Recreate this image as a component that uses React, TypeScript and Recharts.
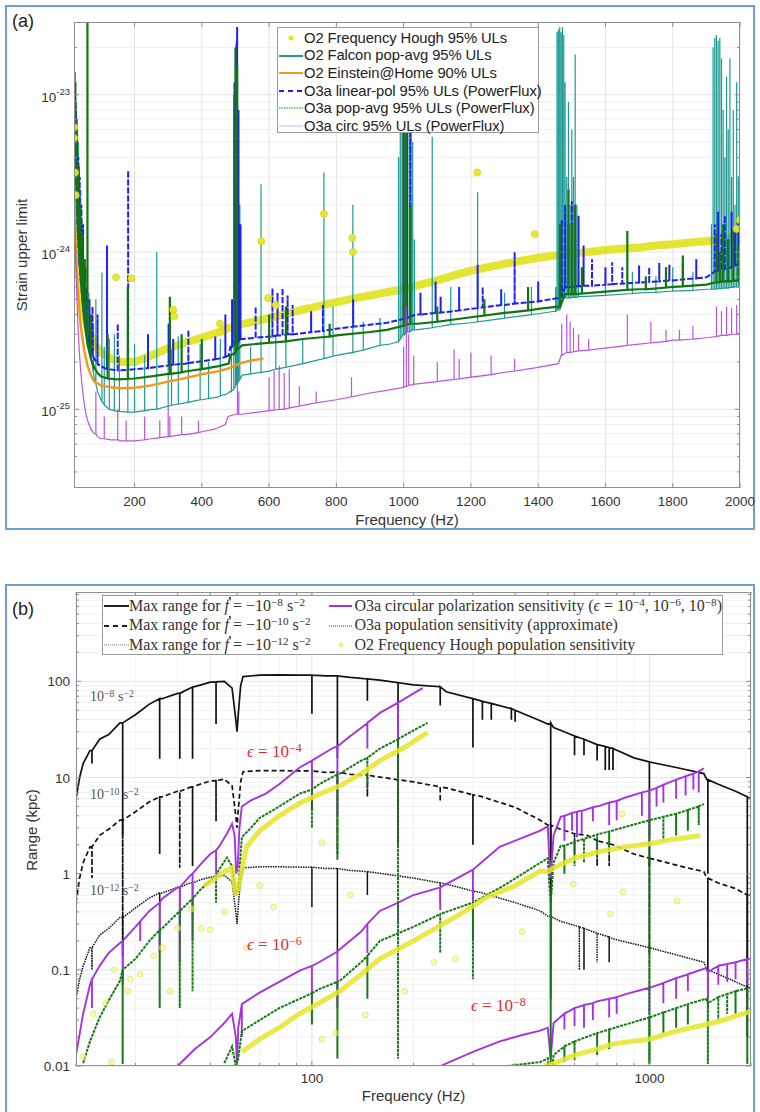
import React from "react";
import { ComposedChart, Line, Scatter, XAxis, YAxis, ReferenceLine } from "recharts";

type P = [number, number];
type S = [number, number, number]; // [frequency, curve value, spike tip]

// ---------- panel (a): strain upper limits ----------
const aXTicks = [200, 400, 600, 800, 1000, 1200, 1400, 1600, 1800, 2000];
const aYMajor = [1e-25, 1e-24, 1e-23];
const aYTicks = [4e-26, 5e-26, 6e-26, 7e-26, 8e-26, 9e-26, 1e-25, 2e-25, 3e-25, 4e-25, 5e-25, 6e-25, 7e-25, 8e-25, 9e-25, 1e-24, 2e-24, 3e-24, 4e-24, 5e-24, 6e-24, 7e-24, 8e-24, 9e-24, 1e-23, 2e-23];

const houghBandA: P[] = [
  [20, 6.2e-24], [22, 4.5e-24], [25, 2.5e-24], [30, 1.2e-24], [40, 6e-25], [50, 4.2e-25], [60, 3.3e-25], [80, 2.6e-25],
  [100, 2.3e-25], [130, 2.1e-25], [160, 2.0e-25], [200, 2.0e-25], [250, 2.2e-25], [300, 2.45e-25], [350, 2.65e-25],
  [400, 2.85e-25], [450, 3.1e-25], [500, 3.4e-25], [550, 3.6e-25], [600, 3.8e-25], [650, 4.05e-25], [700, 4.3e-25],
  [750, 4.55e-25], [800, 4.8e-25], [850, 5.05e-25], [900, 5.3e-25], [950, 5.55e-25], [1000, 5.8e-25], [1050, 6.2e-25],
  [1100, 6.6e-25], [1150, 7.1e-25], [1200, 7.6e-25], [1250, 8.0e-25], [1300, 8.4e-25], [1350, 8.8e-25], [1400, 9.2e-25],
  [1450, 9.5e-25], [1500, 9.8e-25], [1550, 1.0e-24], [1600, 1.03e-24], [1650, 1.05e-24], [1700, 1.07e-24],
  [1750, 1.1e-24], [1800, 1.12e-24], [1850, 1.15e-24], [1900, 1.17e-24], [1950, 1.21e-24], [2000, 1.25e-24],
];
const houghDotsA: P[] = [
  [20, 5.3e-24], [21, 6.2e-24], [23, 3.2e-24], [25, 2.3e-24], [145, 6.9e-25], [191, 6.8e-25], [315, 4.3e-25],
  [318, 3.9e-25], [454, 3.5e-25], [456, 3.1e-25], [577, 1.17e-24], [597, 5.1e-25], [620, 4.6e-25], [763, 1.75e-24],
  [847, 1.23e-24], [849, 1.0e-24], [1219, 3.2e-24], [1390, 1.3e-24], [1990, 1.4e-24], [2000, 1.6e-24],
];

const falconBase: P[] = [
  [20, 1.5e-23], [22, 8e-24], [25, 4e-24], [30, 2e-24], [35, 1.2e-24], [40, 8e-25], [50, 4.5e-25], [60, 3e-25],
  [70, 2.1e-25], [80, 1.6e-25], [90, 1.3e-25], [100, 1.15e-25], [120, 1.02e-25], [150, 9.7e-26], [200, 9.6e-26],
  [250, 1.0e-25], [300, 1.05e-25], [350, 1.1e-25], [400, 1.15e-25], [450, 1.2e-25], [475, 1.25e-25], [485, 1.3e-25],
  [520, 1.65e-25], [600, 1.75e-25], [700, 1.95e-25], [800, 2.2e-25], [900, 2.45e-25], [960, 2.6e-25], [1035, 3.2e-25],
  [1100, 3.35e-25], [1200, 3.55e-25], [1300, 3.8e-25], [1400, 4.05e-25], [1450, 4.2e-25], [1525, 5.2e-25],
  [1600, 5.3e-25], [1700, 5.5e-25], [1800, 5.65e-25], [1900, 5.8e-25], [2000, 6.0e-25],
];
const falconSpikes: S[] = [
  [24, 5e-24, 1.4e-23], [27, 3e-24, 9e-24], [30, 2e-24, 7e-24], [33, 1.5e-24, 5e-24], [36, 1.1e-24, 3.5e-24],
  [40, 8e-25, 2.5e-24], [44, 6e-25, 1.6e-24], [48, 5e-25, 1.2e-24], [52, 4e-25, 9e-25], [56, 3.4e-25, 8e-25],
  [64, 2.6e-25, 5.5e-25], [72, 2e-25, 4e-25], [78, 1.7e-25, 3.5e-25], [85, 1.45e-25, 5e-25], [103, 1.12e-25, 7.4e-25],
  [110, 1.07e-25, 2.5e-25], [125, 1.0e-25, 2.8e-25], [140, 9.8e-26, 3e-25], [155, 9.7e-26, 2.2e-25],
  [180, 9.6e-26, 1.8e-25], [200, 9.6e-26, 2.6e-25], [230, 9.8e-26, 2.2e-25], [266, 1.0e-25, 1.0e-24],
  [300, 1.05e-25, 3.5e-25], [310, 1.06e-25, 2.4e-25], [330, 1.08e-25, 2.9e-25], [360, 1.11e-25, 2.3e-25],
  [395, 1.15e-25, 2.6e-25], [420, 1.17e-25, 2.0e-25], [455, 1.22e-25, 2.8e-25],
  [488, 1.3e-25, 2.5e-25], [495, 1.35e-25, 1e-23], [500, 1.4e-25, 1.6e-23], [503, 1.45e-25, 2.2e-23],
  [506, 1.5e-25, 1.3e-23], [509, 1.5e-25, 6e-24], [513, 1.55e-25, 2e-24],
  [545, 1.68e-25, 2.5e-25], [576, 1.72e-25, 2.7e-24], [620, 1.8e-25, 3e-25], [650, 1.85e-25, 3.2e-25],
  [700, 1.95e-25, 2.8e-25], [763, 2.1e-25, 3.2e-24], [790, 2.18e-25, 4.5e-25], [849, 2.3e-25, 2.0e-24],
  [880, 2.38e-25, 3.6e-25], [930, 2.55e-25, 3.8e-25],
  [985, 2.7e-25, 4e-24], [990, 2.8e-25, 1.6e-23], [995, 2.9e-25, 2.5e-23], [1000, 3e-25, 2.6e-23],
  [1004, 3e-25, 2.2e-23], [1008, 3.1e-25, 1.2e-23], [1012, 3.1e-25, 2.5e-23], [1017, 3.1e-25, 1.9e-23],
  [1022, 3.15e-25, 8e-24], [1027, 3.2e-25, 5e-24], [1032, 3.2e-25, 1.2e-24],
  [1085, 3.3e-25, 5.4e-24], [1140, 3.45e-25, 6e-25], [1220, 3.6e-25, 2.4e-24], [1300, 3.8e-25, 5.5e-25],
  [1380, 4.0e-25, 6e-25],
  [1452, 4.2e-25, 6e-25], [1456, 4.25e-25, 2.5e-23], [1460, 4.3e-25, 2.6e-23], [1464, 4.3e-25, 2.7e-23],
  [1468, 4.5e-25, 2.5e-23], [1472, 5e-25, 2.7e-23], [1476, 5.1e-25, 2.4e-23], [1480, 5.1e-25, 1.2e-23],
  [1485, 5.1e-25, 3e-24], [1490, 5.1e-25, 9e-24], [1495, 5.1e-25, 2e-24], [1500, 5.15e-25, 6e-24],
  [1505, 5.15e-25, 3e-24], [1510, 5.15e-25, 1.8e-23], [1515, 5.15e-25, 2e-24], [1520, 5.2e-25, 8e-25],
  [1600, 5.3e-25, 7e-25], [1680, 5.45e-25, 7.5e-25], [1750, 5.55e-25, 7e-25], [1800, 5.65e-25, 8e-25],
  [1860, 5.7e-25, 7.5e-25],
  [1915, 5.8e-25, 1.5e-24], [1920, 5.8e-25, 2.0e-23], [1925, 5.8e-25, 2.3e-23], [1930, 5.8e-25, 2.4e-23],
  [1935, 5.85e-25, 2.2e-23], [1940, 5.85e-25, 2.3e-23], [1945, 5.85e-25, 1.7e-23], [1950, 5.9e-25, 8e-24],
  [1955, 5.9e-25, 4e-24], [1960, 5.9e-25, 1.3e-23], [1965, 5.9e-25, 6e-24], [1970, 5.95e-25, 1.7e-23],
  [1975, 5.95e-25, 3e-24], [1980, 5.95e-25, 8e-24], [1985, 6e-25, 2e-24], [1990, 6e-25, 1.2e-23], [1995, 6e-25, 3e-24],
];

const einsteinBase: P[] = [
  [20, 2.5e-24], [22, 1.7e-24], [25, 1.1e-24], [30, 6.5e-25], [35, 4.5e-25], [40, 3.4e-25], [50, 2.4e-25],
  [60, 1.9e-25], [70, 1.65e-25], [80, 1.5e-25], [100, 1.42e-25], [130, 1.38e-25], [160, 1.36e-25], [200, 1.37e-25],
  [250, 1.42e-25], [300, 1.5e-25], [350, 1.58e-25], [400, 1.67e-25], [450, 1.75e-25], [480, 1.82e-25],
  [500, 1.9e-25], [520, 1.98e-25], [550, 2.05e-25], [583, 2.1e-25],
];

const linearBase: P[] = [
  [20, 1.1e-23], [21, 8e-24], [22, 6e-24], [24, 4e-24], [26, 2.8e-24], [28, 2e-24], [30, 1.5e-24], [33, 1.1e-24],
  [36, 8.5e-25], [40, 6.5e-25], [45, 5e-25], [50, 4e-25], [55, 3.4e-25], [60, 2.9e-25], [70, 2.4e-25], [80, 2.1e-25],
  [90, 1.95e-25], [100, 1.88e-25], [120, 1.8e-25], [150, 1.77e-25], [200, 1.8e-25], [250, 1.84e-25], [300, 1.9e-25],
  [350, 1.95e-25], [400, 2.02e-25], [450, 2.1e-25], [480, 2.2e-25], [485, 2.5e-25], [520, 2.8e-25], [600, 2.9e-25],
  [700, 3.05e-25], [800, 3.25e-25], [900, 3.45e-25], [950, 3.55e-25], [1040, 4.0e-25], [1100, 4.1e-25],
  [1200, 4.35e-25], [1300, 4.6e-25], [1400, 4.85e-25], [1460, 5.1e-25], [1480, 6.0e-25], [1550, 6.1e-25],
  [1600, 6.2e-25], [1700, 6.4e-25], [1800, 6.6e-25], [1900, 6.9e-25], [1925, 7.5e-25], [1960, 8e-25], [2000, 8.5e-25],
];
const linearSpikes: S[] = [
  [23, 5e-24, 1.05e-23], [26, 2.8e-24, 8e-24], [29, 1.8e-24, 5.5e-24], [33, 1.1e-24, 4e-24], [37, 8e-25, 3e-24],
  [42, 6e-25, 2e-24], [47, 4.5e-25, 1.5e-24], [52, 3.8e-25, 8e-25], [58, 3e-25, 6e-25], [66, 2.6e-25, 5e-25],
  [75, 2.2e-25, 4.5e-25], [90, 1.95e-25, 4e-25], [118, 1.8e-25, 1.1e-24], [150, 1.77e-25, 3.5e-25],
  [181, 1.78e-25, 3.3e-24], [240, 1.83e-25, 3e-25], [302, 1.9e-25, 3.5e-25], [315, 1.92e-25, 2.8e-25],
  [360, 1.97e-25, 3.2e-25], [440, 2.08e-25, 2.9e-25], [470, 2.15e-25, 4e-25], [490, 2.5e-25, 5e-25],
  [497, 2.6e-25, 1.2e-23], [503, 2.7e-25, 2.1e-23], [505, 2.7e-25, 2.7e-23], [509, 2.7e-25, 8e-24],
  [515, 2.8e-25, 1.5e-24], [560, 2.85e-25, 4.5e-25], [610, 2.9e-25, 5.9e-25], [625, 2.95e-25, 5.5e-25],
  [640, 2.95e-25, 5.9e-25], [655, 3e-25, 5.3e-25], [670, 3e-25, 4.6e-25], [725, 3.1e-25, 4.2e-25],
  [760, 3.15e-25, 4.6e-25], [850, 3.35e-25, 5e-25], [1000, 3.75e-25, 1e-23], [1010, 3.8e-25, 1.8e-23],
  [1020, 3.9e-25, 6e-24], [1050, 4.0e-25, 5.5e-25], [1095, 4.1e-25, 6.5e-25], [1110, 4.12e-25, 5.2e-25],
  [1165, 4.25e-25, 6e-25], [1220, 4.4e-25, 8.3e-25], [1235, 4.45e-25, 6e-25], [1290, 4.6e-25, 5.8e-25],
  [1330, 4.7e-25, 1e-24], [1400, 4.85e-25, 6.5e-25], [1470, 5.2e-25, 1.6e-24], [1480, 6e-25, 2e-24],
  [1490, 6e-25, 1.5e-24], [1500, 6e-25, 2.1e-24], [1510, 6.05e-25, 1.2e-24], [1520, 6.05e-25, 1.7e-24],
  [1535, 6.1e-25, 1.1e-24], [1560, 6.1e-25, 9e-25], [1600, 6.2e-25, 8e-25], [1620, 6.25e-25, 8.6e-25],
  [1650, 6.3e-25, 8e-25], [1700, 6.4e-25, 8.2e-25], [1730, 6.45e-25, 8e-25], [1760, 6.5e-25, 8.5e-25],
  [1790, 6.6e-25, 8.3e-25], [1830, 6.7e-25, 8.5e-25], [1870, 6.8e-25, 9e-25], [1925, 7.5e-25, 1.5e-24],
  [1935, 7.6e-25, 1.8e-24], [1945, 7.7e-25, 1.3e-24], [1955, 7.8e-25, 1.7e-24], [1965, 7.9e-25, 1.2e-24],
  [1975, 8e-25, 1.8e-24], [1985, 8.2e-25, 1.4e-24], [1995, 8.4e-25, 1.6e-24],
];

const popAvgBase: P[] = [
  [20, 1.2e-23], [22, 7e-24], [24, 4.5e-24], [26, 3.2e-24], [28, 2.4e-24], [30, 1.8e-24], [33, 1.3e-24],
  [36, 9.5e-25], [40, 7e-25], [45, 5e-25], [50, 3.8e-25], [55, 3.1e-25], [60, 2.6e-25], [70, 2.1e-25],
  [80, 1.85e-25], [90, 1.7e-25], [100, 1.62e-25], [120, 1.57e-25], [150, 1.55e-25], [200, 1.57e-25],
  [250, 1.62e-25], [300, 1.68e-25], [350, 1.74e-25], [400, 1.8e-25], [450, 1.88e-25], [480, 1.95e-25],
  [485, 2.2e-25], [520, 2.55e-25], [600, 2.65e-25], [700, 2.8e-25], [800, 2.95e-25], [900, 3.1e-25],
  [950, 3.2e-25], [1040, 3.5e-25], [1100, 3.6e-25], [1200, 3.85e-25], [1300, 4.1e-25], [1400, 4.35e-25],
  [1460, 4.5e-25], [1480, 5.4e-25], [1600, 5.6e-25], [1700, 5.8e-25], [1800, 6.0e-25], [1900, 6.2e-25],
  [1925, 6.4e-25], [2000, 6.6e-25],
];
const popAvgSpikes: S[] = [
  [24, 4.5e-24, 1.2e-23], [28, 2.4e-24, 6e-24], [33, 1.3e-24, 3.5e-24], [38, 8e-25, 2e-24], [45, 5e-25, 1.3e-24],
  [52, 3.5e-25, 9e-25], [60, 2.6e-25, 2.9e-23], [70, 2.1e-25, 4e-25], [120, 1.57e-25, 3e-25],
  [180, 1.56e-25, 6e-25], [305, 1.68e-25, 5.2e-25], [340, 1.72e-25, 3e-25], [400, 1.8e-25, 2.8e-25],
  [500, 2.3e-25, 2e-23], [505, 2.4e-25, 1.5e-23], [600, 2.65e-25, 4e-25], [650, 2.7e-25, 4.5e-25],
  [780, 2.9e-25, 3.5e-25], [1000, 3.4e-25, 1.2e-23], [1008, 3.45e-25, 8e-24], [1020, 3.5e-25, 2e-24],
  [1100, 3.6e-25, 4.5e-25], [1240, 3.95e-25, 5e-25], [1370, 4.25e-25, 6e-25], [1465, 4.5e-25, 1.5e-24],
  [1490, 5.4e-25, 2.5e-24], [1500, 5.4e-25, 1.5e-24], [1510, 5.4e-25, 2e-24], [1530, 5.45e-25, 8e-25],
  [1665, 5.75e-25, 1.36e-24], [1720, 5.8e-25, 7e-25], [1780, 5.95e-25, 8e-25], [1830, 6.05e-25, 9.5e-25],
  [1930, 6.4e-25, 1.3e-24], [1940, 6.45e-25, 1.0e-24], [1950, 6.5e-25, 1.5e-24], [1965, 6.5e-25, 1.2e-24],
  [1980, 6.55e-25, 1.4e-24], [1995, 6.6e-25, 1.1e-24],
];

const circBase: P[] = [
  [20, 2.5e-24], [22, 1.6e-24], [24, 1.1e-24], [26, 7.5e-25], [28, 5.5e-25], [30, 4.2e-25], [33, 3e-25],
  [36, 2.3e-25], [40, 1.75e-25], [45, 1.35e-25], [50, 1.1e-25], [55, 9.5e-26], [60, 8.5e-26], [70, 7.5e-26],
  [80, 7e-26], [90, 6.7e-26], [100, 6.5e-26], [130, 6.4e-26], [160, 6.3e-26], [200, 6.3e-26], [250, 6.5e-26],
  [300, 6.7e-26], [350, 6.9e-26], [400, 7.2e-26], [440, 7.5e-26], [470, 8.0e-26], [478, 9.0e-26], [500, 9.3e-26],
  [520, 9.3e-26], [600, 9.8e-26], [700, 1.06e-25], [800, 1.15e-25], [900, 1.27e-25], [950, 1.32e-25],
  [1040, 1.45e-25], [1100, 1.5e-25], [1200, 1.6e-25], [1300, 1.72e-25], [1400, 1.85e-25], [1460, 1.95e-25],
  [1470, 2.25e-25], [1600, 2.45e-25], [1700, 2.6e-25], [1800, 2.75e-25], [1900, 2.85e-25], [1950, 2.95e-25],
  [2000, 3.05e-25],
];
const circSpikes: S[] = [
  [85, 7e-26, 1.3e-25], [110, 6.5e-26, 9e-26], [150, 6.4e-26, 1e-25], [175, 6.3e-26, 8.5e-26], [230, 6.4e-26, 9e-26],
  [275, 6.6e-26, 8.5e-26], [300, 6.7e-26, 1.05e-25], [305, 6.7e-26, 9e-26], [340, 6.9e-26, 9e-26],
  [390, 7.1e-26, 8.5e-26], [506, 9.3e-26, 1.75e-25], [510, 9.3e-26, 1.3e-25], [600, 9.8e-26, 1.6e-25],
  [615, 9.9e-26, 1.75e-25], [630, 1e-25, 1.9e-25], [645, 1e-25, 1.7e-25], [660, 1.02e-25, 1.8e-25],
  [690, 1.05e-25, 1.4e-25], [740, 1.1e-25, 1.3e-25], [845, 1.2e-25, 1.6e-25], [1000, 1.38e-25, 2.5e-25],
  [1008, 1.4e-25, 4.5e-25], [1015, 1.42e-25, 3e-25], [1030, 1.44e-25, 2.2e-25], [1100, 1.5e-25, 2e-25],
  [1150, 1.55e-25, 2.4e-25], [1165, 1.56e-25, 2.1e-25], [1200, 1.6e-25, 2.3e-25], [1260, 1.66e-25, 2.2e-25],
  [1330, 1.75e-25, 2.1e-25], [1470, 2.2e-25, 3.5e-25], [1485, 2.3e-25, 4e-25], [1495, 2.3e-25, 3.6e-25],
  [1505, 2.32e-25, 3.3e-25], [1520, 2.35e-25, 3e-25], [1550, 2.38e-25, 2.8e-25], [1665, 2.55e-25, 4e-25],
  [1735, 2.65e-25, 3.6e-25], [1780, 2.7e-25, 3.2e-25], [1820, 2.75e-25, 3.2e-25], [1860, 2.8e-25, 3.4e-25],
  [1930, 2.9e-25, 4.5e-25], [1945, 2.95e-25, 4.2e-25], [1960, 2.95e-25, 4.5e-25], [1975, 3e-25, 4.4e-25],
  [1990, 3e-25, 4.6e-25],
];

// ---------- panel (b): range (kpc) ----------
const bXTicks = [20, 30, 40, 50, 60, 70, 80, 90, 100, 200, 300, 400, 500, 600, 700, 800, 900, 1000, 2000];
const bXMajor = [100, 1000];
const bYTicks = [0.01, 0.02, 0.03, 0.04, 0.05, 0.06, 0.07, 0.08, 0.09, 0.1, 0.2, 0.3, 0.4, 0.5, 0.6, 0.7, 0.8, 0.9, 1, 2, 3, 4, 5, 6, 7, 8, 9, 10, 20, 30, 40, 50, 60, 70, 80, 90, 100, 200, 300, 400, 500, 600, 700, 800];
const bYMajor = [0.01, 0.1, 1, 10, 100];

const maxRange8: P[] = [
  [20, 6], [20.5, 10], [21, 14], [22, 19], [23.5, 25], [25, 28], [27, 37], [30, 45], [33, 58], [36, 66], [40, 75],
  [43.5, 85], [47, 92], [50, 98], [55, 100], [58, 85], [59.5, 40], [60, 30], [60.5, 45], [61.5, 90], [62.5, 112],
  [70, 116], [80, 117], [92, 116], [110, 114], [130, 110], [159, 103], [200, 92], [250, 78], [315, 63], [400, 50],
  [475, 39], [500, 36], [520, 33], [545, 31], [600, 27], [700, 22], [780, 20], [900, 16], [1000, 14.5],
  [1230, 12.5], [1450, 11], [1480, 9.5], [1600, 8.5], [1800, 7.2], [2000, 6.0],
];
const maxRange8Spikes: S[] = [
  [22.3, 19, 14], [27.5, 37, 2.5], [35.4, 66, 15.7], [40.6, 75, 15.7], [44.3, 87, 15.7], [52, 99, 36],
  [100, 116, 46], [119, 114, 16], [146, 106, 63], [180, 97, 2], [240, 88, 56], [300, 66, 20.5], [320, 62, 40],
  [340, 59, 40], [390, 52, 40], [400, 50, 38], [510, 37, 0.5], [600, 27, 17], [640, 25, 17], [700, 22, 15],
  [740, 21, 12], [760, 20.5, 12], [780, 20, 12], [1000, 14.5, 1.2], [1490, 9.5, 1.0], [1950, 6.3, 0.05],
];
const maxRange10: P[] = [
  [20, 0.5], [20.5, 0.9], [21, 1.3], [22, 1.9], [23.5, 2.5], [25, 2.9], [27, 3.6], [30, 4.4], [33, 5.6], [36, 6.3],
  [40, 7.2], [43.5, 7.9], [47, 8.6], [50, 9.2], [55, 9.6], [58, 8.2], [59.5, 4], [60, 3], [60.5, 4.5], [61.5, 9],
  [62.5, 11.5], [70, 11.8], [80, 11.8], [92, 11.7], [110, 11.3], [130, 10.8], [159, 10.1], [200, 9], [250, 7.8],
  [315, 6.4], [400, 4.9], [475, 3.6], [500, 3.2], [545, 2.9], [600, 2.6], [655, 2.5], [780, 2.0], [900, 1.6],
  [1000, 1.45], [1230, 1.2], [1450, 1.05], [1480, 0.9], [1600, 0.8], [1800, 0.7], [2000, 0.6],
];
const maxRange10Spikes: S[] = [
  [22.3, 1.9, 0.9], [27.5, 3.6, 0.14], [35.4, 6.3, 1.6], [40.6, 7.2, 1.15], [44.3, 8, 1.2], [52, 9.3, 3.5],
  [100, 11.7, 4.6], [119, 11.4, 1.6], [146, 10.6, 6.3], [240, 8, 5.6], [300, 6.6, 2], [510, 3.2, 0.05],
  [600, 2.6, 1.6], [700, 2.2, 1.2], [760, 2.05, 1.2], [1000, 1.45, 0.15], [1490, 0.9, 0.1], [1950, 0.6, 0.02],
];
const maxRange12: P[] = [
  [20, 0.05], [20.5, 0.08], [21, 0.11], [22, 0.17], [23.5, 0.23], [25, 0.27], [27, 0.35], [30, 0.44], [33, 0.56],
  [36, 0.63], [40, 0.72], [43.5, 0.8], [47, 0.87], [50, 0.92], [55, 0.96], [58, 0.82], [59.5, 0.4], [60, 0.3],
  [60.5, 0.45], [61.5, 0.9], [62.5, 1.15], [70, 1.18], [80, 1.18], [92, 1.17], [110, 1.13], [130, 1.08],
  [159, 1.01], [200, 0.9], [250, 0.78], [315, 0.64], [400, 0.5], [475, 0.41], [500, 0.36], [545, 0.32], [600, 0.29],
  [700, 0.24], [780, 0.21], [1000, 0.17], [1230, 0.14], [1450, 0.12], [1480, 0.1], [1600, 0.09], [1800, 0.075],
  [2000, 0.065],
];
const maxRange12Spikes: S[] = [
  [22.3, 0.17, 0.1], [27.5, 0.35, 0.08], [35.4, 0.63, 0.25], [40.6, 0.72, 0.3], [44.3, 0.8, 0.35],
  [100, 1.17, 0.45], [119, 1.13, 0.15], [146, 1.05, 0.6], [240, 0.8, 0.5], [300, 0.66, 0.2], [510, 0.36, 0.1],
  [620, 0.28, 0.1], [640, 0.27, 0.1], [700, 0.24, 0.12], [760, 0.22, 0.12], [1000, 0.17, 0.06], [1490, 0.1, 0.04],
  [1950, 0.066, 0.02],
];

const circEps4: P[] = [
  [20, 0.013], [21, 0.035], [22, 0.07], [23.5, 0.11], [25, 0.15], [27, 0.19], [30, 0.28], [33, 0.41], [36, 0.55],
  [40, 0.72], [43.5, 0.95], [47, 1.27], [50, 1.6], [53, 1.9], [56, 2.6], [58, 3.3], [59, 2.5], [59.7, 1.0],
  [60.3, 1.2], [61, 3], [62, 5], [66, 5.8], [73, 6.8], [80, 8.5], [92, 12.7], [100, 15], [116, 20.5], [130, 27],
  [145, 36], [159, 47], [180, 60], [200, 75], [213, 85],
];
const circEps4Spikes: S[] = [
  [22.3, 0.08, 0.04], [27.5, 0.2, 0.07], [31, 0.32, 0.2], [35.4, 0.5, 0.15], [40.6, 0.72, 0.12], [44.3, 1.0, 0.2],
  [52, 1.75, 1.0], [100, 15, 6], [119, 21, 4], [146, 37, 20], [180, 60, 25],
];
const circEps6: P[] = [
  [40, 0.01], [45, 0.015], [50, 0.02], [55, 0.028], [58, 0.035], [59.5, 0.02], [60, 0.01], [60.5, 0.025],
  [62, 0.044], [70, 0.058], [80, 0.075], [92, 0.098], [105, 0.12], [120, 0.16], [140, 0.25], [159, 0.41],
  [200, 0.6], [240, 0.72], [300, 1.1], [360, 1.9], [475, 2.8], [500, 3.1], [505, 1.5], [510, 0.9], [520, 2.5],
  [546, 3.9], [620, 4.5], [714, 5.1], [850, 6.2], [1000, 7.3], [1200, 9.5], [1415, 11.8], [1450, 12.5],
];
const circEps6Spikes: S[] = [
  [62, 0.044, 0.02], [100, 0.11, 0.05], [119, 0.155, 0.04], [146, 0.3, 0.15], [180, 0.5, 0.3], [240, 0.72, 0.42],
  [300, 1.1, 0.45], [560, 4.0, 2.2], [590, 4.3, 2.8], [610, 4.4, 2.4], [630, 4.5, 2.6], [680, 4.9, 3.5],
  [760, 5.5, 3.2], [800, 5.7, 3.6], [950, 7, 4], [1000, 7.3, 2.5], [1050, 7.8, 5], [1100, 8.4, 5.5],
  [1200, 9.5, 6], [1280, 10.3, 6.5], [1350, 11, 7.5], [1400, 11.6, 7],
];
const circEps8: P[] = [
  [240, 0.01], [300, 0.014], [360, 0.018], [420, 0.021], [475, 0.0233], [500, 0.025], [510, 0.012], [520, 0.028],
  [560, 0.035], [700, 0.047], [850, 0.056], [1000, 0.065], [1200, 0.082], [1470, 0.104], [1490, 0.095],
  [1600, 0.11], [1800, 0.12], [2000, 0.13],
];
const circEps8Spikes: S[] = [
  [560, 0.035, 0.024], [600, 0.04, 0.026], [640, 0.043, 0.025], [680, 0.045, 0.03], [760, 0.05, 0.032],
  [800, 0.052, 0.035], [1000, 0.065, 0.035], [1100, 0.073, 0.045], [1200, 0.082, 0.05], [1300, 0.09, 0.06],
  [1490, 0.095, 0.05], [1600, 0.11, 0.07], [1700, 0.115, 0.075], [1800, 0.12, 0.08], [1950, 0.13, 0.07],
];

const popEps4: P[] = [
  [21, 0.0107], [22, 0.018], [23.5, 0.032], [25, 0.048], [27, 0.077], [30, 0.13], [33, 0.2], [36, 0.27],
  [40.6, 0.41], [46.5, 0.67], [50, 0.85], [53, 1.1], [56, 1.47], [58, 1.2], [59.5, 0.6], [60.5, 0.7], [61.5, 1.6],
  [62, 2.4], [66, 3.0], [70, 3.8], [80, 5], [92, 6.8], [105, 8.5], [121, 11], [140, 15], [159, 20], [190, 28],
  [220, 37],
];
const popEps4Spikes: S[] = [
  [27.5, 0.1, 0.0105], [35.4, 0.26, 0.04], [40.6, 0.41, 0.04], [44.3, 0.55, 0.06], [52, 0.95, 0.5],
  [100, 7.5, 3.0], [119, 10.8, 1.4], [146, 16, 8], [180, 25, 0.012],
];
const popEps6: P[] = [
  [55, 0.0107], [58, 0.016], [59.5, 0.01], [60.5, 0.012], [62, 0.023], [70, 0.03], [80, 0.04], [92, 0.05],
  [105, 0.063], [121, 0.077], [140, 0.12], [159, 0.2], [200, 0.28], [275, 0.45], [370, 0.75], [475, 1.3],
  [500, 1.45], [505, 0.8], [510, 0.5], [520, 1.3], [546, 1.95], [714, 2.6], [1000, 3.6], [1415, 5.1], [1450, 5.3],
];
const popEps6Spikes: S[] = [
  [100, 0.057, 0.027], [119, 0.075, 0.012], [146, 0.14, 0.05], [240, 0.38, 0.15], [300, 0.5, 0.08],
  [510, 0.5, 0.0105], [560, 1.95, 1.0], [600, 2.15, 1.2], [640, 2.3, 1.3], [700, 2.55, 1.5], [760, 2.75, 1.7],
  [1000, 3.6, 0.0105], [1100, 3.9, 2.2], [1200, 4.2, 2.5], [1300, 4.6, 2.8], [1400, 5.0, 3.2],
];
const popEps8: P[] = [
  [380, 0.01], [475, 0.011], [500, 0.012], [510, 0.006], [520, 0.013], [560, 0.016], [700, 0.022], [850, 0.027],
  [1000, 0.032], [1200, 0.04], [1470, 0.05], [1490, 0.045], [1700, 0.056], [2000, 0.065],
];
const popEps8Spikes: S[] = [
  [560, 0.016, 0.011], [600, 0.018, 0.0115], [700, 0.022, 0.013], [760, 0.024, 0.015], [1000, 0.032, 0.0105],
  [1100, 0.036, 0.022], [1200, 0.04, 0.025], [1300, 0.044, 0.027], [1490, 0.045, 0.0105], [1600, 0.052, 0.03],
  [1700, 0.056, 0.035], [1800, 0.06, 0.035], [1950, 0.064, 0.0105],
];

const houghEps4: P[] = [
  [48, 0.75], [52, 0.9], [55, 1.05], [58, 1.15], [59.5, 0.6], [61, 0.8], [64, 1.9], [70, 2.8], [80, 4.0],
  [92, 5.4], [105, 6.7], [121, 8.2], [140, 11], [159, 15], [190, 21], [220, 29.5],
];
const houghEps6: P[] = [
  [62, 0.014], [70, 0.019], [80, 0.025], [92, 0.035], [105, 0.045], [121, 0.06], [140, 0.09], [159, 0.13],
  [200, 0.2], [275, 0.38], [330, 0.57], [400, 0.75], [475, 1.07], [500, 1.05], [520, 1.15], [600, 1.45],
  [714, 1.7], [850, 1.9], [1000, 2.05], [1200, 2.3], [1415, 2.5],
];
const houghEps8: P[] = [
  [490, 0.01], [520, 0.0105], [600, 0.013], [700, 0.015], [780, 0.017], [1000, 0.019], [1200, 0.023],
  [1470, 0.027], [1600, 0.029], [1800, 0.033], [2000, 0.037],
];
const houghDotsB: P[] = [
  [21, 0.0125], [22.5, 0.035], [24.5, 0.045], [25.5, 0.011], [26, 0.1], [28.5, 0.06], [29, 0.08], [31, 0.09],
  [34, 0.14], [36, 0.17], [38, 0.06], [40, 0.27], [44, 0.43], [47, 0.27], [50, 0.26], [55, 0.4], [64, 0.17],
  [70, 0.75], [77, 0.45], [107, 2.1], [107, 0.019], [118, 0.022], [130, 0.6], [144, 0.034], [188, 0.06],
  [230, 0.12], [266, 0.13], [420, 0.25], [595, 0.78], [767, 0.38], [835, 0.64], [1210, 0.52], [830, 4.2],
];

const toPts = (base: P[]) => base.map(([f, v]) => ({ f, v }));
// merge a curve with its spikes, each spike drawn as curve -> tip -> curve at one frequency
const withSpikes = (base: P[], spikes: S[]) => {
  const rows: { f: number; v: number; o: number }[] = [];
  base.forEach(([f, v]) => rows.push({ f, v, o: 0 }));
  spikes.forEach(([f, v, tip]) => {
    rows.push({ f, v, o: 1 }, { f, v: tip, o: 2 }, { f, v, o: 3 });
  });
  rows.sort((a, b) => a.f - b.f || a.o - b.o);
  return rows;
};

const AXIS = "#8e8e8e";
const GRID = "#e4e4e4";
const GRID_MINOR = "#f1f1f1";
const SANS = '"Liberation Sans", Arial, Helvetica, sans-serif';
const SERIF = '"Liberation Serif", "Times New Roman", serif';

const A = { left: 74, right: 740, top: 22, bottom: 488 };
const B = { left: 76, right: 751, top: 32, bottom: 506 }; // relative to panel (b) chart

const expOf = (v: number) => Math.round(Math.log10(v));

function aTickX(props: any) {
  const { x, y, payload } = props;
  return (
    <g>
      <line x1={x} x2={x} y1={y} y2={y - 5} stroke={AXIS} />
      <line x1={x} x2={x} y1={A.top} y2={A.top + 5} stroke={AXIS} />
      <text x={x} y={y + 18} textAnchor="middle" fontSize={13.5} fill="#333" fontFamily={SANS}>
        {payload.value}
      </text>
    </g>
  );
}

function aTickY(props: any) {
  const { x, y, payload } = props;
  const v = payload.value;
  const major = aYMajor.some((m) => Math.abs(m - v) / m < 1e-6);
  const len = major ? 5 : 3;
  return (
    <g>
      <line x1={x} x2={x + len} y1={y} y2={y} stroke={AXIS} />
      <line x1={A.right} x2={A.right - len} y1={y} y2={y} stroke={AXIS} />
      {major && (
        <text x={x - 4} y={y + 7} textAnchor="end" fontSize={13.5} fill="#333" fontFamily={SANS}>
          10
          <tspan dy={-7} fontSize={9.5}>
            {String(expOf(v))}
          </tspan>
        </text>
      )}
    </g>
  );
}

function bTickX(props: any) {
  const { x, y, payload } = props;
  const v = payload.value;
  const major = bXMajor.includes(v);
  const len = major ? 5 : 3;
  return (
    <g>
      <line x1={x} x2={x} y1={y} y2={y - len} stroke={AXIS} />
      <line x1={x} x2={x} y1={B.top} y2={B.top + len} stroke={AXIS} />
      {major && (
        <text x={x} y={y + 17} textAnchor="middle" fontSize={13.5} fill="#333" fontFamily={SANS}>
          {v}
        </text>
      )}
    </g>
  );
}

function bTickY(props: any) {
  const { x, y, payload } = props;
  const v = payload.value;
  const major = bYMajor.some((m) => Math.abs(m - v) / m < 1e-6);
  const len = major ? 5 : 3;
  return (
    <g>
      <line x1={x} x2={x + len} y1={y} y2={y} stroke={AXIS} />
      <line x1={B.right} x2={B.right - len} y1={y} y2={y} stroke={AXIS} />
      {major && (
        <text x={x - 6} y={y + 5} textAnchor="end" fontSize={13.5} fill="#333" fontFamily={SANS}>
          {v}
        </text>
      )}
    </g>
  );
}

const yellowDot = (r: number, fill: string, op: number) => (p: any) =>
  <circle cx={p.cx} cy={p.cy} r={r} fill={fill} fillOpacity={op} stroke="#d6d61a" strokeOpacity={op} strokeWidth={0.8} />;

const line = (data: any[], stroke: string, width: number, dash?: string, opacity = 1) => (
  <Line
    data={data}
    dataKey="v"
    type="linear"
    stroke={stroke}
    strokeWidth={width}
    strokeDasharray={dash}
    strokeOpacity={opacity}
    dot={false}
    activeDot={false}
    isAnimationActive={false}
    legendType="none"
  />
);

function LegendRow({ sample, children, h }: { sample: React.ReactNode; children: React.ReactNode; h: number }) {
  return (
    <div style={{ display: "flex", alignItems: "center", height: h, whiteSpace: "nowrap" }}>
      <svg width={26} height={h} style={{ flex: "none" }}>
        {sample}
      </svg>
      <span>{children}</span>
    </div>
  );
}

function PanelA() {
  return (
    <div style={{ position: "absolute", left: 0, top: 0, width: 760, height: 540 }}>
      <div style={{ position: "absolute", left: 5, top: 5, width: 746, height: 521, border: "2px solid #6d9dd6" }} />
      <ComposedChart width={760} height={540} margin={{ top: 22, right: 20, left: 14, bottom: 22 }}>
        <XAxis type="number" dataKey="f" domain={[20, 2000]} ticks={aXTicks} interval={0} tickSize={0} tickMargin={0}
          tick={aTickX} axisLine={false} tickLine={false} height={30} allowDataOverflow />
        <YAxis type="number" dataKey="v" scale="log" domain={[3.16e-26, 2.9e-23]} ticks={aYTicks} interval={0}
          tickSize={0} tickMargin={0} tick={aTickY} axisLine={false} tickLine={false} width={60} allowDataOverflow />
        {aYTicks.map((t) => (
          <ReferenceLine key={"ay" + t} y={t} stroke={aYMajor.includes(t) ? GRID : GRID_MINOR} />
        ))}
        {aXTicks.map((t) => (
          <ReferenceLine key={"ax" + t} x={t} stroke={GRID} />
        ))}
        {line(toPts(houghBandA), "#e1e11c", 8, undefined, 0.9)}
        {line(withSpikes(falconBase, falconSpikes), "#1f9a93", 1.2)}
        {line(toPts(einsteinBase), "#f7961c", 2.4)}
        {line(withSpikes(linearBase, linearSpikes), "#1f1ff5", 2, "6 2")}
        {line(withSpikes(popAvgBase, popAvgSpikes), "#137413", 2.2)}
        {line(withSpikes(circBase, circSpikes), "#b243dc", 1.2, undefined, 0.9)}
        <Scatter data={toPts(houghDotsA)} shape={yellowDot(3.5, "#e6e62a", 0.95)} isAnimationActive={false} legendType="none" />
      </ComposedChart>
      <div style={{ position: "absolute", left: A.left, top: A.top, width: A.right - A.left, height: A.bottom - A.top,
        border: `1px solid ${AXIS}`, boxSizing: "border-box", pointerEvents: "none" }} />

      <div style={{ position: "absolute", left: 12, top: 11, fontFamily: SANS, fontSize: 18, color: "#222" }}>(a)</div>
      <div style={{ position: "absolute", left: 21, top: 255, transform: "translate(-50%, -50%) rotate(-90deg)",
        fontFamily: SANS, fontSize: 15, color: "#333", whiteSpace: "nowrap" }}>Strain upper limit</div>
      <div style={{ position: "absolute", left: (A.left + A.right) / 2, top: 511, transform: "translateX(-50%)",
        fontFamily: SANS, fontSize: 15, color: "#333", whiteSpace: "nowrap" }}>Frequency (Hz)</div>

      <div style={{ position: "absolute", left: 277, top: 27, width: 262, height: 106, boxSizing: "border-box",
        border: "1px solid #9a9a9a", background: "#fff", fontFamily: SANS, fontSize: 14.8, color: "#222", paddingTop: 1,
        letterSpacing: -0.1 }}>
        <LegendRow h={17.6} sample={<circle cx={13} cy={9} r={2.6} fill="#e3e31e" />}>O2 Frequency Hough 95% ULs</LegendRow>
        <LegendRow h={17.6} sample={<line x1={1} x2={25} y1={9} y2={9} stroke="#1f9a93" strokeWidth={2} />}>O2 Falcon pop-avg 95% ULs</LegendRow>
        <LegendRow h={17.6} sample={<line x1={1} x2={25} y1={9} y2={9} stroke="#f7961c" strokeWidth={2} />}>O2 Einstein@Home 90% ULs</LegendRow>
        <LegendRow h={17.6} sample={<line x1={1} x2={25} y1={9} y2={9} stroke="#1f1ff5" strokeWidth={2} strokeDasharray="5 4" />}>O3a linear-pol 95% ULs (PowerFlux)</LegendRow>
        <LegendRow h={17.6} sample={<line x1={1} x2={25} y1={9} y2={9} stroke="#5cb85c" strokeWidth={1.5} strokeDasharray="1.5 1" />}>O3a pop-avg 95% ULs (PowerFlux)</LegendRow>
        <LegendRow h={17.6} sample={<line x1={1} x2={25} y1={9} y2={9} stroke="#d6b0ec" strokeWidth={1} />}>O3a circ 95% ULs (PowerFlux)</LegendRow>
      </div>
    </div>
  );
}

const Sup = ({ children }: { children: React.ReactNode }) => (
  <sup style={{ fontSize: "0.7em", verticalAlign: "0.45em", lineHeight: 0 }}>{children}</sup>
);
// italic f with a small drawn dot above it (time derivative)
const FDot = () => (
  <span style={{ position: "relative", display: "inline-block" }}>
    <i>f</i>
    <svg width={4} height={4} style={{ position: "absolute", left: 3.5, top: -1 }}>
      <circle cx={2} cy={2} r={1.1} fill="#333" />
    </svg>
  </span>
);

function PanelB() {
  const purple = "#a433e0";
  const green = "#157a15";
  const yellow = "#e5e52a";
  return (
    <div style={{ position: "absolute", left: 0, top: 560, width: 760, height: 552 }}>
      <div style={{ position: "absolute", left: 5, top: 24, width: 746, height: 560, border: "2px solid #6d9dd6" }} />
      <ComposedChart width={760} height={552} margin={{ top: 32, right: 9, left: 16, bottom: 16 }}>
        <XAxis type="number" dataKey="f" scale="log" domain={[20, 2000]} ticks={bXTicks} interval={0} tickSize={0}
          tickMargin={0} tick={bTickX} axisLine={false} tickLine={false} height={30} allowDataOverflow />
        <YAxis type="number" dataKey="v" scale="log" domain={[0.01, 850]} ticks={bYTicks} interval={0} tickSize={0}
          tickMargin={0} tick={bTickY} axisLine={false} tickLine={false} width={60} allowDataOverflow />
        {bYTicks.map((t) => (
          <ReferenceLine key={"by" + t} y={t} stroke={bYMajor.includes(t) ? GRID : GRID_MINOR} />
        ))}
        {bXTicks.map((t) => (
          <ReferenceLine key={"bx" + t} x={t} stroke={bXMajor.includes(t) ? GRID : GRID_MINOR} />
        ))}
        <Scatter data={toPts(houghDotsB)} shape={yellowDot(3, "#f0f07a", 0.55)} isAnimationActive={false} legendType="none" />
        {line(withSpikes(maxRange8, maxRange8Spikes), "#111", 1.7)}
        {line(withSpikes(maxRange10, maxRange10Spikes), "#111", 1.7, "5 3")}
        {line(withSpikes(maxRange12, maxRange12Spikes), "#111", 1.5, "1.5 1")}
        {line(withSpikes(circEps4, circEps4Spikes), purple, 1.9)}
        {line(withSpikes(circEps6, circEps6Spikes), purple, 1.9)}
        {line(withSpikes(circEps8, circEps8Spikes), purple, 1.9)}
        {line(withSpikes(popEps4, popEps4Spikes), green, 2, "3 1")}
        {line(withSpikes(popEps6, popEps6Spikes), green, 2, "3 1")}
        {line(withSpikes(popEps8, popEps8Spikes), green, 2, "3 1")}
        {line(toPts(houghEps4), yellow, 5, undefined, 0.85)}
        {line(toPts(houghEps6), yellow, 5, undefined, 0.85)}
        {line(toPts(houghEps8), yellow, 5, undefined, 0.85)}
      </ComposedChart>
      <div style={{ position: "absolute", left: B.left, top: B.top, width: B.right - B.left, height: B.bottom - B.top,
        border: `1px solid ${AXIS}`, boxSizing: "border-box", pointerEvents: "none" }} />

      <div style={{ position: "absolute", left: 12, top: 39, fontFamily: SANS, fontSize: 18, color: "#222" }}>(b)</div>
      <div style={{ position: "absolute", left: 31, top: 270, transform: "translate(-50%, -50%) rotate(-90deg)",
        fontFamily: SANS, fontSize: 15, color: "#333", whiteSpace: "nowrap" }}>Range (kpc)</div>
      <div style={{ position: "absolute", left: (B.left + B.right) / 2, top: 527, transform: "translateX(-50%)",
        fontFamily: SANS, fontSize: 15, color: "#333", whiteSpace: "nowrap" }}>Frequency (Hz)</div>

      <div style={{ position: "absolute", left: 102, top: 35, width: 621, height: 60, boxSizing: "border-box",
        border: "1px solid #9a9a9a", background: "#fff", fontFamily: SERIF, fontSize: 16, color: "#333",
        display: "flex", paddingTop: 0 }}>
        <div style={{ width: 226 }}>
          <LegendRow h={19.5} sample={<line x1={1} x2={26} y1={10} y2={10} stroke="#222" strokeWidth={2} />}>
            Max range for <FDot /> = −10<Sup>−8</Sup> s<Sup>−2</Sup>
          </LegendRow>
          <LegendRow h={19.5} sample={<line x1={1} x2={26} y1={10} y2={10} stroke="#222" strokeWidth={2} strokeDasharray="5 4" />}>
            Max range for <FDot /> = −10<Sup>−10</Sup> s<Sup>−2</Sup>
          </LegendRow>
          <LegendRow h={19.5} sample={<line x1={1} x2={26} y1={10} y2={10} stroke="#777" strokeWidth={1} strokeDasharray="1 1" />}>
            Max range for <FDot /> = −10<Sup>−12</Sup> s<Sup>−2</Sup>
          </LegendRow>
        </div>
        <div>
          <LegendRow h={19.5} sample={<line x1={1} x2={24} y1={10} y2={10} stroke={purple} strokeWidth={2} />}>
            O3a circular polarization sensitivity (<i>ϵ</i> = 10<Sup>−4</Sup>, 10<Sup>−6</Sup>, 10<Sup>−8</Sup>)
          </LegendRow>
          <LegendRow h={19.5} sample={<line x1={1} x2={24} y1={10} y2={10} stroke="#3a9a3a" strokeWidth={1.5} strokeDasharray="1 1" />}>
            O3a population sensitivity (approximate)
          </LegendRow>
          <LegendRow h={19.5} sample={<circle cx={13} cy={10} r={2.5} fill="#f0f07a" />}>
            O2 Frequency Hough population sensitivity
          </LegendRow>
        </div>
      </div>

      <div style={{ position: "absolute", left: 90, top: 129, fontFamily: SERIF, fontSize: 14, color: "#555", whiteSpace: "nowrap" }}>
        10<Sup>−8</Sup> s<Sup>−2</Sup>
      </div>
      <div style={{ position: "absolute", left: 90, top: 227, fontFamily: SERIF, fontSize: 14, color: "#555", whiteSpace: "nowrap" }}>
        10<Sup>−10</Sup> s<Sup>−2</Sup>
      </div>
      <div style={{ position: "absolute", left: 90, top: 323, fontFamily: SERIF, fontSize: 14, color: "#555", whiteSpace: "nowrap" }}>
        10<Sup>−12</Sup> s<Sup>−2</Sup>
      </div>
      <div style={{ position: "absolute", left: 247, top: 182, fontFamily: SERIF, fontSize: 17, color: "#e62b2b", whiteSpace: "nowrap" }}>
        <i>ϵ</i> = 10<Sup>−4</Sup>
      </div>
      <div style={{ position: "absolute", left: 247, top: 375, fontFamily: SERIF, fontSize: 17, color: "#e62b2b", whiteSpace: "nowrap" }}>
        <i>ϵ</i> = 10<Sup>−6</Sup>
      </div>
      <div style={{ position: "absolute", left: 471, top: 436, fontFamily: SERIF, fontSize: 17, color: "#e62b2b", whiteSpace: "nowrap" }}>
        <i>ϵ</i> = 10<Sup>−8</Sup>
      </div>
    </div>
  );
}

export default function App() {
  return (
    <div style={{ position: "absolute", left: 0, top: 0, width: 760, height: 1112, background: "#fff", overflow: "hidden" }}>
      <PanelA />
      <PanelB />
    </div>
  );
}
